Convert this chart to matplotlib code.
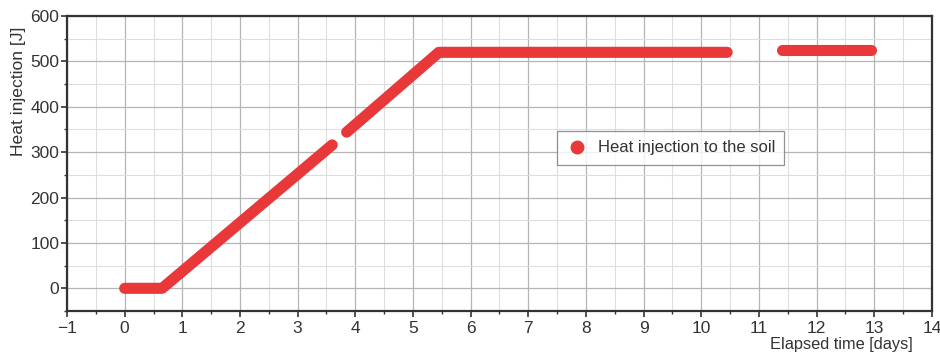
import matplotlib.pyplot as plt
from matplotlib.ticker import MultipleLocator

plt.rcParams['font.family'] = ['Liberation Sans', 'DejaVu Sans']

# breakpoints of the recorded heat injection (days, J), one list per logging period
seg1_t = [0.0, 0.65, 3.6]
seg1_q = [0, 0, 316]
seg2_t = [3.85, 5.45, 10.45]
seg2_q = [344, 520, 520]
seg3_t = [11.4, 12.95]
seg3_q = [525, 525]

red = '#e8383a'

fig = plt.figure(figsize=(9.4, 3.56), dpi=100)
ax = fig.add_axes([0.0713, 0.1264, 0.92, 0.8286])

for t, q in [(seg1_t, seg1_q), (seg2_t, seg2_q), (seg3_t, seg3_q)]:
    ax.plot(t, q, color=red, lw=8, solid_capstyle='round', solid_joinstyle='round')

# legend handle only
ax.plot([], [], 'o', color=red, ms=9, label='Heat injection to the soil')

ax.set_xlim(-1, 14)
ax.set_ylim(-50, 600)
ax.xaxis.set_major_locator(MultipleLocator(1))
ax.xaxis.set_minor_locator(MultipleLocator(0.5))
ax.yaxis.set_major_locator(MultipleLocator(100))
ax.yaxis.set_minor_locator(MultipleLocator(50))
ax.grid(which='major', color='#b5b5b5', lw=0.9)
ax.grid(which='minor', color='#dedede', lw=0.8)
ax.set_axisbelow(True)

for s in ax.spines.values():
    s.set_color('#333333')
    s.set_linewidth(1.6)
ax.tick_params(which='major', direction='out', length=4, width=1.2, colors='#333333',
               labelsize=12.5, labelcolor='#333333', pad=3)
ax.tick_params(axis='y', which='major', pad=1.5)
ax.tick_params(which='minor', direction='out', length=2.5, width=1.0, colors='#333333')
ax.set_xticklabels([('\u2212' if v < 0 else '') + str(abs(int(v))) for v in ax.get_xticks()])

ax.set_ylabel('Heat injection [J]', fontsize=12.6, color='#333333')
ax.yaxis.set_label_coords(-0.047, 0.746)
ax.set_xlabel('Elapsed time [days]', fontsize=11.8, color='#333333')
ax.xaxis.set_label_coords(0.978, -0.088)
ax.xaxis.label.set_ha('right')
ax.xaxis.label.set_va('top')

leg = ax.legend(loc='center', bbox_to_anchor=(0.698, 0.553), fontsize=12, frameon=True,
                fancybox=False, edgecolor='#777777', handletextpad=0.6, borderpad=0.55,
                handlelength=1.3)
leg.get_frame().set_linewidth(0.9)
for txt in leg.get_texts():
    txt.set_color('#333333')

fig.savefig('out.png', dpi=100)
